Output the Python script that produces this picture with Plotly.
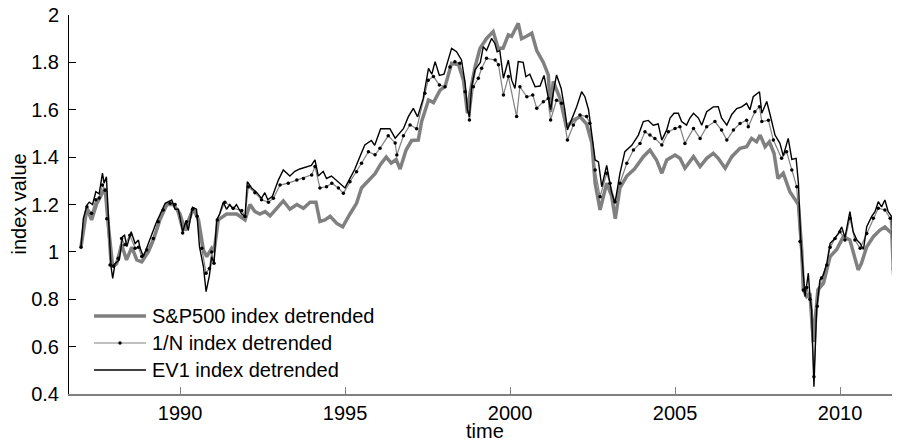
import plotly.graph_objects as go

# ---- data (decimal years, index values) ----
t_sp = [1987.00, 1987.18, 1987.32, 1987.48, 1987.63, 1987.73, 1987.83, 1987.96, 1988.08, 1988.23,
        1988.38, 1988.54, 1988.69, 1988.84, 1989.04, 1989.19, 1989.39, 1989.60, 1989.80, 1990.00,
        1990.15, 1990.40, 1990.56, 1990.71, 1990.81, 1990.96, 1991.03, 1991.16, 1991.41, 1991.72,
        1991.97, 1992.12, 1992.27, 1992.42, 1992.58, 1992.73, 1992.93, 1993.13, 1993.33, 1993.54,
        1993.74, 1993.94, 1994.12, 1994.24, 1994.39, 1994.55, 1994.75, 1994.93, 1995.15, 1995.35,
        1995.50, 1995.71, 1995.91, 1996.08, 1996.25, 1996.40, 1996.55, 1996.67, 1996.85, 1997.02,
        1997.22, 1997.32, 1997.53, 1997.68, 1997.88, 1998.03, 1998.13, 1998.23, 1998.44, 1998.59,
        1998.71, 1998.79, 1998.94, 1999.09, 1999.29, 1999.49, 1999.64, 1999.79, 1999.95, 2000.05,
        2000.25, 2000.35, 2000.50, 2000.66, 2000.81, 2001.01, 2001.16, 2001.23, 2001.31, 2001.51,
        2001.71, 2001.91, 2002.12, 2002.32, 2002.48, 2002.58, 2002.73, 2002.93, 2003.08, 2003.19,
        2003.33, 2003.54, 2003.77, 2004.04, 2004.24, 2004.44, 2004.60, 2004.75, 2005.00, 2005.15,
        2005.30, 2005.56, 2005.76, 2005.96, 2006.16, 2006.31, 2006.52, 2006.72, 2006.97, 2007.17,
        2007.32, 2007.47, 2007.58, 2007.73, 2007.86, 2008.00, 2008.12, 2008.28, 2008.48, 2008.60,
        2008.74, 2008.84, 2008.89, 2008.99, 2009.09, 2009.19, 2009.33, 2009.50, 2009.70, 2009.90,
        2010.10, 2010.30, 2010.45, 2010.55, 2010.65, 2010.81, 2011.01, 2011.21, 2011.36, 2011.46,
        2011.57, 2011.62, 2011.80]
v_sp = [1.022, 1.184, 1.135, 1.205, 1.245, 1.268, 1.110, 0.937, 0.950, 1.030,
        0.966, 1.020, 0.966, 0.958, 1.000, 1.050, 1.135, 1.200, 1.200, 1.160,
        1.090, 1.184, 1.135, 1.008, 0.980, 1.015, 1.000, 1.135, 1.160, 1.160,
        1.135, 1.200, 1.170, 1.160, 1.170, 1.152, 1.184, 1.215, 1.180, 1.200,
        1.184, 1.210, 1.210, 1.128, 1.135, 1.150, 1.120, 1.106, 1.160, 1.205,
        1.270, 1.300, 1.330, 1.370, 1.400, 1.375, 1.390, 1.350, 1.430, 1.470,
        1.472, 1.550, 1.641, 1.630, 1.683, 1.697, 1.747, 1.796, 1.790, 1.725,
        1.585, 1.670, 1.780, 1.859, 1.901, 1.930, 1.860, 1.860, 1.916, 1.910,
        1.965, 1.900, 1.910, 1.923, 1.850, 1.800, 1.747, 1.590, 1.720, 1.650,
        1.528, 1.555, 1.571, 1.540, 1.460, 1.290, 1.177, 1.290, 1.235, 1.140,
        1.270, 1.320, 1.350, 1.402, 1.430, 1.388, 1.332, 1.388, 1.409, 1.395,
        1.353, 1.402, 1.360, 1.395, 1.416, 1.395, 1.353, 1.402, 1.437, 1.444,
        1.479, 1.465, 1.493, 1.444, 1.465, 1.416, 1.310, 1.332, 1.254, 1.230,
        1.200, 1.008, 0.839, 0.811, 0.825, 0.620, 0.840, 0.868, 0.980, 1.010,
        1.064, 1.050, 0.966, 0.924, 0.952, 1.022, 1.064, 1.092, 1.105, 1.092,
        1.078, 0.910, 0.910]

t_n = [1987.00, 1987.18, 1987.32, 1987.45, 1987.55, 1987.65, 1987.73, 1987.78, 1987.88, 1987.98,
       1988.13, 1988.23, 1988.33, 1988.48, 1988.64, 1988.74, 1988.84, 1988.99, 1989.19, 1989.34,
       1989.49, 1989.70, 1989.85, 1990.08, 1990.20, 1990.38, 1990.52, 1990.66, 1990.79, 1990.89,
       1990.96, 1991.03, 1991.13, 1991.36, 1991.61, 1991.87, 1991.97, 1992.07, 1992.27, 1992.47,
       1992.68, 1992.83, 1993.03, 1993.28, 1993.54, 1993.74, 1993.99, 1994.09, 1994.24, 1994.44,
       1994.60, 1994.80, 1994.95, 1995.15, 1995.35, 1995.50, 1995.71, 1995.91, 1996.06, 1996.31,
       1996.52, 1996.57, 1996.77, 1996.97, 1997.17, 1997.42, 1997.52, 1997.68, 1997.86, 1998.03,
       1998.18, 1998.33, 1998.48, 1998.64, 1998.77, 1998.89, 1999.04, 1999.14, 1999.29, 1999.55,
       1999.65, 1999.80, 1999.95, 2000.20, 2000.30, 2000.51, 2000.69, 2000.81, 2001.01, 2001.16,
       2001.23, 2001.41, 2001.56, 2001.74, 2001.92, 2002.12, 2002.32, 2002.42, 2002.58, 2002.73,
       2002.93, 2003.03, 2003.18, 2003.33, 2003.54, 2003.74, 2003.94, 2004.09, 2004.24, 2004.39,
       2004.60, 2004.80, 2005.00, 2005.15, 2005.30, 2005.56, 2005.76, 2005.96, 2006.21, 2006.41,
       2006.57, 2006.77, 2006.97, 2007.17, 2007.22, 2007.42, 2007.56, 2007.63, 2007.83, 2007.98,
       2008.23, 2008.38, 2008.54, 2008.69, 2008.79, 2008.89, 2008.99, 2009.09, 2009.21, 2009.31,
       2009.44, 2009.60, 2009.70, 2009.85, 2010.00, 2010.15, 2010.30, 2010.45, 2010.61, 2010.81,
       2011.01, 2011.16, 2011.36, 2011.52, 2011.62, 2011.80]
v_n = [1.020, 1.190, 1.163, 1.220, 1.227, 1.282, 1.260, 1.140, 0.945, 0.940,
       0.973, 1.056, 1.030, 1.070, 1.015, 1.020, 0.980, 1.008, 1.056, 1.127,
       1.177, 1.205, 1.200, 1.080, 1.127, 1.180, 1.150, 1.015, 0.910, 0.930,
       1.000, 0.952, 1.135, 1.210, 1.184, 1.175, 1.149, 1.275, 1.250, 1.220,
       1.210, 1.226, 1.282, 1.290, 1.303, 1.310, 1.325, 1.360, 1.270, 1.275,
       1.290, 1.270, 1.247, 1.296, 1.338, 1.374, 1.423, 1.410, 1.437, 1.490,
       1.460, 1.409, 1.490, 1.536, 1.520, 1.670, 1.725, 1.740, 1.705, 1.697,
       1.780, 1.803, 1.796, 1.676, 1.557, 1.697, 1.733, 1.775, 1.817, 1.810,
       1.790, 1.662, 1.740, 1.571, 1.697, 1.655, 1.662, 1.606, 1.634, 1.648,
       1.557, 1.640, 1.627, 1.472, 1.536, 1.578, 1.571, 1.543, 1.346, 1.233,
       1.332, 1.290, 1.212, 1.290, 1.374, 1.430, 1.458, 1.507, 1.493, 1.479,
       1.451, 1.507, 1.521, 1.528, 1.458, 1.521, 1.479, 1.528, 1.550, 1.514,
       1.472, 1.514, 1.542, 1.556, 1.528, 1.592, 1.613, 1.550, 1.556, 1.472,
       1.395, 1.423, 1.346, 1.275, 1.044, 0.839, 0.850, 0.800, 0.473, 0.770,
       0.890, 0.945, 1.020, 1.056, 1.085, 1.050, 1.142, 1.050, 1.015, 1.078,
       1.142, 1.184, 1.177, 1.142, 0.930, 0.980]

t_ev = [1987.00, 1987.07, 1987.18, 1987.25, 1987.35, 1987.45, 1987.55, 1987.65, 1987.70, 1987.77,
        1987.83, 1987.91, 1987.96, 1988.03, 1988.16, 1988.26, 1988.32, 1988.39, 1988.52, 1988.64,
        1988.74, 1988.79, 1988.89, 1989.02, 1989.14, 1989.29, 1989.39, 1989.55, 1989.75, 1989.85,
        1989.95, 1990.08, 1990.18, 1990.25, 1990.38, 1990.50, 1990.59, 1990.71, 1990.79, 1990.89,
        1990.96, 1991.03, 1991.11, 1991.20, 1991.31, 1991.41, 1991.51, 1991.61, 1991.71, 1991.87,
        1991.97, 1992.04, 1992.17, 1992.33, 1992.47, 1992.57, 1992.66, 1992.80, 1992.98, 1993.13,
        1993.33, 1993.48, 1993.63, 1993.84, 1993.98, 1994.09, 1994.19, 1994.34, 1994.44, 1994.59,
        1994.75, 1994.90, 1995.00, 1995.15, 1995.30, 1995.45, 1995.60, 1995.80, 1995.90, 1996.08,
        1996.36, 1996.52, 1996.77, 1996.92, 1997.07, 1997.20, 1997.37, 1997.53, 1997.63, 1997.73,
        1997.86, 1998.00, 1998.13, 1998.23, 1998.38, 1998.53, 1998.64, 1998.71, 1998.77, 1998.84,
        1998.94, 1999.10, 1999.19, 1999.29, 1999.44, 1999.54, 1999.61, 1999.69, 1999.80, 1999.95,
        2000.05, 2000.15, 2000.25, 2000.40, 2000.48, 2000.60, 2000.76, 2000.91, 2001.03, 2001.13,
        2001.23, 2001.31, 2001.41, 2001.55, 2001.66, 2001.74, 2001.87, 2002.02, 2002.17, 2002.27,
        2002.38, 2002.48, 2002.58, 2002.68, 2002.78, 2002.93, 2003.08, 2003.18, 2003.33, 2003.48,
        2003.69, 2003.89, 2004.04, 2004.19, 2004.34, 2004.49, 2004.60, 2004.75, 2004.85, 2004.97,
        2005.10, 2005.20, 2005.35, 2005.45, 2005.56, 2005.71, 2005.81, 2005.96, 2006.16, 2006.31,
        2006.41, 2006.57, 2006.72, 2006.87, 2007.02, 2007.17, 2007.27, 2007.37, 2007.56, 2007.63,
        2007.78, 2007.88, 2008.03, 2008.18, 2008.28, 2008.43, 2008.54, 2008.67, 2008.74, 2008.81,
        2008.89, 2008.94, 2008.99, 2009.04, 2009.09, 2009.14, 2009.21, 2009.29, 2009.39, 2009.49,
        2009.60, 2009.70, 2009.80, 2009.95, 2010.05, 2010.15, 2010.30, 2010.40, 2010.51, 2010.61,
        2010.71, 2010.81, 2010.96, 2011.06, 2011.16, 2011.26, 2011.36, 2011.46, 2011.57, 2011.62,
        2011.72, 2011.80]
v_ev = [1.022, 1.140, 1.198, 1.210, 1.200, 1.254, 1.245, 1.332, 1.290, 1.317,
        1.149, 0.937, 0.888, 0.950, 0.966, 1.064, 1.070, 1.022, 1.085, 1.035,
        1.050, 1.016, 0.980, 1.030, 1.071, 1.127, 1.156, 1.205, 1.219, 1.180,
        1.180, 1.085, 1.130, 1.090, 1.188, 1.180, 1.022, 0.937, 0.832, 0.900,
        0.980, 0.950, 1.135, 1.160, 1.210, 1.180, 1.200, 1.180, 1.200, 1.160,
        1.149, 1.296, 1.270, 1.250, 1.226, 1.250, 1.220, 1.235, 1.303, 1.346,
        1.320, 1.340, 1.350, 1.360, 1.365, 1.388, 1.320, 1.340, 1.310, 1.320,
        1.300, 1.282, 1.270, 1.310, 1.350, 1.402, 1.451, 1.470, 1.450, 1.520,
        1.520, 1.480, 1.520, 1.571, 1.606, 1.570, 1.648, 1.775, 1.750, 1.803,
        1.745, 1.750, 1.810, 1.859, 1.845, 1.810, 1.712, 1.600, 1.570, 1.700,
        1.768, 1.800, 1.866, 1.850, 1.901, 1.880, 1.845, 1.850, 1.733, 1.810,
        1.725, 1.690, 1.803, 1.800, 1.740, 1.750, 1.697, 1.700, 1.745, 1.680,
        1.600, 1.670, 1.747, 1.690, 1.600, 1.515, 1.557, 1.613, 1.676, 1.655,
        1.600, 1.500, 1.388, 1.380, 1.275, 1.365, 1.250, 1.205, 1.330, 1.423,
        1.450, 1.493, 1.550, 1.555, 1.535, 1.540, 1.472, 1.515, 1.565, 1.585,
        1.585, 1.550, 1.535, 1.565, 1.585, 1.565, 1.535, 1.592, 1.612, 1.613,
        1.565, 1.535, 1.580, 1.605, 1.612, 1.627, 1.600, 1.655, 1.676, 1.585,
        1.635, 1.580, 1.493, 1.458, 1.405, 1.479, 1.390, 1.395, 1.290, 1.050,
        0.924, 0.811, 0.860, 0.910, 0.811, 0.755, 0.431, 0.755, 0.881, 0.900,
        0.952, 1.036, 1.050, 1.078, 1.105, 1.060, 1.170, 1.085, 1.050, 1.036,
        1.010, 1.106, 1.150, 1.170, 1.212, 1.190, 1.219, 1.170, 1.149, 0.952,
        0.940, 0.994]

series_names = ["S&P500 index detrended", "1/N index detrended", "EV1 index detrended"]
x_ticks = [1990, 1995, 2000, 2005, 2010]
y_ticks = [0.4, 0.6, 0.8, 1, 1.2, 1.4, 1.6, 1.8, 2]
y_tick_text = ["0.4", "0.6", "0.8", "1", "1.2", "1.4", "1.6", "1.8", "2"]

FONT = "Liberation Sans, Arial, sans-serif"
FS = 20
GRAY = "#808080"

# page body adds an 8px offset; margins compensate so the axes land where the reference has them
L, R, T, B = 61, 8, 7, 55
W, H = 900, 441
PW, PH = W - L - R, H - T - B


def px_x(fx):
    return (fx - L) / PW


def px_y(fy):
    return (H - B - fy) / PH


fig = go.Figure()
fig.add_trace(go.Scatter(x=t_sp, y=v_sp, mode="lines", name=series_names[0],
                         line=dict(color=GRAY, width=3.5)))
fig.add_trace(go.Scatter(x=t_n, y=v_n, mode="lines+markers", name=series_names[1],
                         line=dict(color=GRAY, width=1.2),
                         marker=dict(color="black", size=3.5)))
fig.add_trace(go.Scatter(x=t_ev, y=v_ev, mode="lines", name=series_names[2],
                         line=dict(color="black", width=1.4)))

# manual legend (lower left, inside the axes)
leg_rows = [308, 335, 362]
leg_styles = [dict(color=GRAY, width=3.5), dict(color=GRAY, width=1.2), dict(color="black", width=1.4)]
shapes = []
annotations = []
for row, style, name in zip(leg_rows, leg_styles, series_names):
    shapes.append(dict(type="line", xref="paper", yref="paper",
                       x0=px_x(86), x1=px_x(138), y0=px_y(row), y1=px_y(row), line=style))
    annotations.append(dict(text=name, xref="paper", yref="paper", x=px_x(142), y=px_y(row),
                            xanchor="left", yanchor="middle", showarrow=False, font=dict(size=FS)))
shapes.append(dict(type="circle", xref="paper", yref="paper", fillcolor="black", line=dict(width=0),
                   x0=px_x(110.3), x1=px_x(113.7), y0=px_y(leg_rows[1] + 1.7), y1=px_y(leg_rows[1] - 1.7)))

annotations.append(dict(text="time", xref="paper", yref="paper", x=0.5, y=0, yshift=-37,
                        xanchor="center", yanchor="middle", showarrow=False, font=dict(size=FS)))
annotations.append(dict(text="index value", xref="paper", yref="paper", x=0, y=0.5, xshift=-51,
                        xanchor="center", yanchor="middle", textangle=-90, showarrow=False,
                        font=dict(size=FS)))

fig.update_layout(
    width=W, height=H,
    margin=dict(l=L, r=R, t=T, b=B, autoexpand=False),
    paper_bgcolor="white", plot_bgcolor="white",
    font=dict(family=FONT, size=FS, color="black"),
    showlegend=False,
    shapes=shapes,
    annotations=annotations,
)
fig.update_xaxes(range=[1986.636, 2011.818], tickvals=x_ticks, ticktext=[str(v) for v in x_ticks],
                 automargin=False, ticklabeloverflow="allow",
                 showgrid=False, zeroline=False, showline=True, linecolor=GRAY, linewidth=2,
                 ticks="inside", ticklen=7, tickcolor=GRAY, tickwidth=1, ticklabelstandoff=0)
fig.update_yaxes(range=[0.4, 2.0], tickvals=y_ticks, ticktext=y_tick_text,
                 automargin=False, ticklabeloverflow="allow",
                 showgrid=False, zeroline=False, showline=True, linecolor="black", linewidth=1,
                 ticks="inside", ticklen=7, tickcolor="black", tickwidth=1, ticklabelstandoff=5)

fig.write_html("out.html")
